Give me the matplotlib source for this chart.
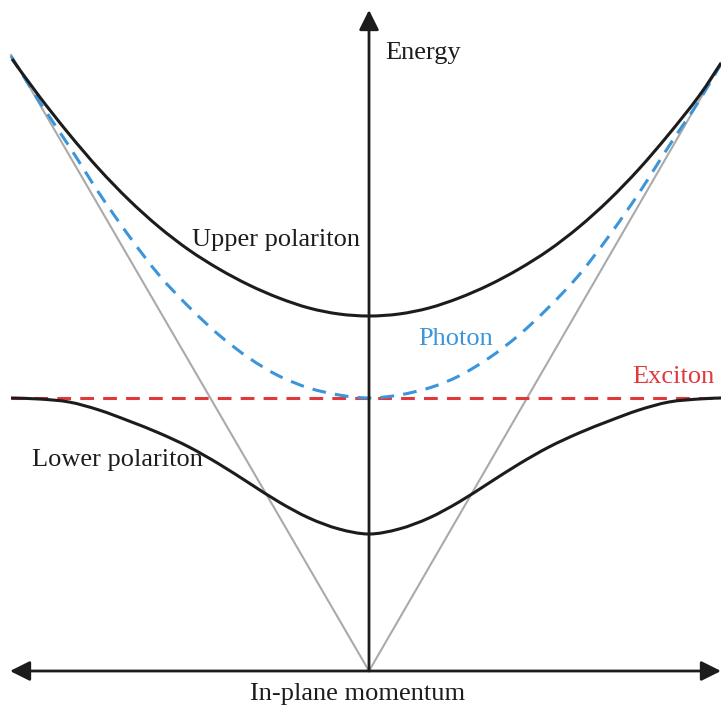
import matplotlib
matplotlib.use('Agg')
import matplotlib.pyplot as plt
from matplotlib.path import Path
from matplotlib.patches import PathPatch

# momentum k and energy E, arbitrary units (origin at the cone tip)
up_k = [-357, -330, -300, -270, -240, -210, -180, -150, -120, -90, -60, -30, 0,
        30, 60, 90, 120, 150, 180, 210, 240, 270, 300, 330, 352]
up_E = [612, 575, 537, 502, 471, 444, 421, 402, 386, 373, 363, 357, 355,
        357, 363, 373, 386, 402, 421, 444, 471, 502, 537, 575, 608]

ph_k = [-358, -330, -300, -270, -240, -210, -180, -150, -120, -90, -60, -30, 0,
        30, 60, 90, 120, 150, 180, 210, 240, 270, 300, 330, 352]
ph_E = [615, 570, 525, 478, 435, 396, 364, 336, 313, 295, 283, 276, 273,
        276, 283, 295, 313, 336, 364, 396, 435, 478, 525, 570, 607]

lp_k = [-358, -330, -300, -270, -240, -210, -180, -150, -120, -90, -60, -30, 0,
        30, 60, 90, 120, 150, 180, 210, 240, 270, 300, 330, 352]
lp_E = [273, 272, 269, 261, 250, 238, 224, 207, 188, 169, 153, 142, 137,
        142, 153, 169, 188, 207, 224, 238, 250, 261, 269, 272, 273]

ex_k = [-358, 352]
ex_E = [273, 273]

cone_k = [-358, 0, 352]
cone_E = [616, 0, 608]

black = '#1c1c1c'
blue = '#3b95db'
red = '#e0393b'
grey = '#aaaaaa'


def smooth_path(k, E):
    # Catmull-Rom through the read points, drawn as cubic Bezier segments
    pts = list(zip(k, E))
    verts = [pts[0]]
    codes = [Path.MOVETO]
    for i in range(len(pts) - 1):
        p0 = pts[i - 1] if i > 0 else pts[i]
        p1 = pts[i]
        p2 = pts[i + 1]
        p3 = pts[i + 2] if i + 2 < len(pts) else pts[i + 1]
        c1 = (p1[0] + (p2[0] - p0[0]) / 6, p1[1] + (p2[1] - p0[1]) / 6)
        c2 = (p2[0] - (p3[0] - p1[0]) / 6, p2[1] - (p3[1] - p1[1]) / 6)
        verts += [c1, c2, p2]
        codes += [Path.CURVE4] * 3
    return Path(verts, codes)


plt.rcParams['font.family'] = ['Liberation Serif', 'DejaVu Serif']

fig = plt.figure(figsize=(7.21, 7.09), dpi=100)
ax = fig.add_axes([0, 0, 1, 1])
ax.set_xlim(-369, 352)
ax.set_ylim(-38, 671)
ax.axis('off')

ax.plot(cone_k, cone_E, color=grey, lw=1.5, zorder=1)
ax.plot(ex_k, ex_E, color=red, lw=2.2, dashes=(4.5, 3), zorder=2)
ax.add_patch(PathPatch(smooth_path(ph_k, ph_E), fill=False, edgecolor=blue,
                       lw=2.2, linestyle=(0, (4.5, 3)), zorder=3))
ax.add_patch(PathPatch(smooth_path(up_k, up_E), fill=False, edgecolor=black,
                       lw=2.2, zorder=4))
ax.add_patch(PathPatch(smooth_path(lp_k, lp_E), fill=False, edgecolor=black,
                       lw=2.2, zorder=4))

# axes with arrows
ax.annotate('', xy=(0, 661), xytext=(0, 0),
            arrowprops=dict(arrowstyle='-|>', mutation_scale=30, lw=2,
                            color=black, shrinkA=0, shrinkB=0), zorder=5)
ax.annotate('', xy=(352, 0), xytext=(-359, 0),
            arrowprops=dict(arrowstyle='<|-|>', mutation_scale=30, lw=2,
                            color=black, shrinkA=0, shrinkB=0), zorder=5)

fs = 19
ax.text(16, 618, 'Energy', fontsize=fs, color=black, ha='left', va='center')
ax.text(-177, 431, 'Upper polariton', fontsize=fs, color=black, ha='left', va='center')
ax.text(49, 332, 'Photon', fontsize=fs, color=blue, ha='left', va='center')
ax.text(263, 294, 'Exciton', fontsize=fs, color=red, ha='left', va='center')
ax.text(-337, 211, 'Lower polariton', fontsize=fs, color=black, ha='left', va='center')
ax.text(-11, -23, 'In-plane momentum', fontsize=fs, color=black, ha='center', va='center')

plt.savefig('out.png', dpi=100)
